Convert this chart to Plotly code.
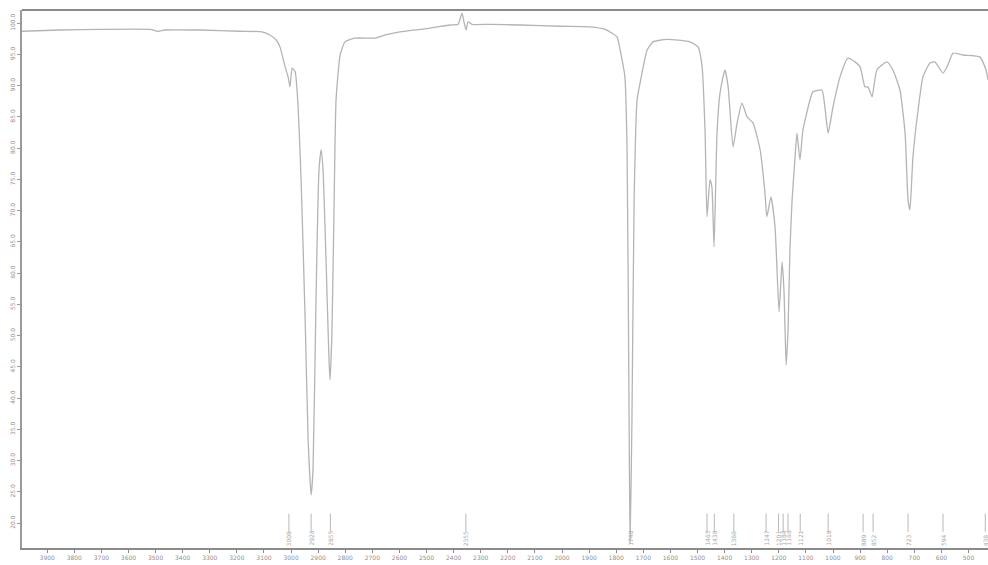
import plotly.graph_objects as go

# IR spectrum: wavenumber (cm-1) and transmittance (%T)
wavenumber = [3993, 3852, 3705, 3520, 3491, 3465, 3336, 3188, 3107, 3078, 3055, 3041, 3022, 3011, 3004,
              2996, 2985, 2974, 2963, 2948, 2937, 2926, 2919, 2908, 2897, 2889, 2882, 2871, 2860, 2856,
              2849, 2841, 2834, 2819, 2801, 2764, 2690, 2653, 2598, 2487, 2413, 2384, 2369, 2362, 2354,
              2347, 2332, 2266, 2155, 2007, 1897, 1841, 1816, 1797, 1782, 1768, 1760, 1753, 1749, 1742,
              1734, 1723, 1712, 1686, 1664, 1613, 1528, 1498, 1483, 1472, 1465, 1454, 1447, 1439, 1428,
              1417, 1399, 1387, 1369, 1354, 1336, 1317, 1295, 1269, 1251, 1244, 1229, 1214, 1199, 1188,
              1181, 1173, 1166, 1159, 1151, 1140, 1133, 1122, 1111, 1085, 1074, 1041, 1030, 1018, 1000,
              974, 945, 919, 900, 882, 871, 856, 838, 801, 779, 753, 734, 723, 716, 705,
              686, 668, 642, 624, 594, 579, 557, 520, 458, 435, 428]
transmittance = [98.7, 98.9, 99.0, 99.0, 98.7, 98.9, 98.9, 98.7, 98.6, 98.1, 97.3, 96.2, 93.0, 91.4, 89.8,
                 92.8, 92.2, 86.6, 74.9, 52.5, 33.3, 24.5, 28.5, 55.7, 76.5, 79.7, 76.5, 62.1, 46.1, 42.9,
                 50.9, 71.7, 87.7, 94.9, 97.0, 97.6, 97.6, 98.1, 98.6, 99.2, 99.7, 99.8, 101.6, 100.2, 98.9,
                 100.2, 99.8, 99.8, 99.7, 99.5, 99.4, 99.0, 98.4, 97.8, 94.9, 91.4, 79.7, 39.7, 16.8, 36.5,
                 71.7, 87.7, 90.4, 95.7, 97.0, 97.4, 97.0, 96.2, 93.0, 82.4, 69.0, 74.9, 73.8, 64.2, 82.4,
                 88.8, 92.5, 89.8, 80.2, 84.0, 87.2, 85.0, 84.0, 79.7, 72.8, 69.0, 72.2, 67.4, 53.8, 61.8,
                 57.3, 45.3, 50.9, 63.7, 71.7, 78.6, 82.4, 78.1, 82.9, 87.7, 89.0, 89.3, 86.6, 82.4, 86.6,
                 91.4, 94.4, 93.8, 93.0, 89.8, 89.8, 88.2, 92.5, 93.8, 92.5, 89.3, 82.4, 71.7, 70.1, 78.6,
                 86.1, 91.4, 93.6, 93.8, 92.0, 93.0, 95.2, 94.9, 94.6, 92.5, 90.9]

# Peak labels
peak_wn = [3008, 2926, 2855, 2355, 1748, 1465, 1438, 1366, 1247, 1201, 1184, 1166, 1121, 1018,
           889, 852, 723, 594, 438]

x_ticks = list(range(3900, 400, -100))
y_ticks = list(range(20, 101, 5))

fig = go.Figure()
fig.add_trace(go.Scatter(x=wavenumber, y=transmittance, mode="lines",
                         line=dict(color="#b4b4b4", width=1.3, shape="spline", smoothing=0.5),
                         hoverinfo="skip"))

for w in peak_wn:
    fig.add_shape(type="line", xref="x", yref="paper", x0=w, x1=w, y0=0.03, y1=0.064,
                  line=dict(color="#b8b8b8", width=1))
    fig.add_annotation(x=w, y=0.0, xref="x", yref="paper", text=str(w), showarrow=False,
                       textangle=-90, yanchor="bottom", font=dict(size=6, color="#a8a8a8",
                                                                    family="DejaVu Sans"))

fig.update_layout(
    width=988, height=565,
    margin=dict(l=22, r=0, t=10, b=17),
    paper_bgcolor="white", plot_bgcolor="white",
    showlegend=False,
    xaxis=dict(range=[3993, 428], tickvals=x_ticks, ticktext=[str(v) for v in x_ticks],
               showgrid=False, zeroline=False, showline=True, linecolor="#8a8a8a", linewidth=2,
               ticks="outside", ticklen=3, tickcolor="#8a8a8a", mirror=False,
               tickfont=dict(size=6, color="#909090", family="DejaVu Sans")),
    yaxis=dict(range=[16, 102.1], tickvals=y_ticks, ticktext=[f"{v:.1f}" for v in y_ticks],
               showgrid=False, zeroline=False, showline=True, linecolor="#9a9a9a", linewidth=2,
               ticks="outside", ticklen=3, tickcolor="#9a9a9a", tickangle=-90,
               tickfont=dict(size=6, color="#909090", family="DejaVu Sans")),
)
fig.add_shape(type="line", xref="paper", yref="paper", x0=0, x1=1, y0=1, y1=1,
              line=dict(color="#8a8a8a", width=2))

fig.write_html("out.html")
